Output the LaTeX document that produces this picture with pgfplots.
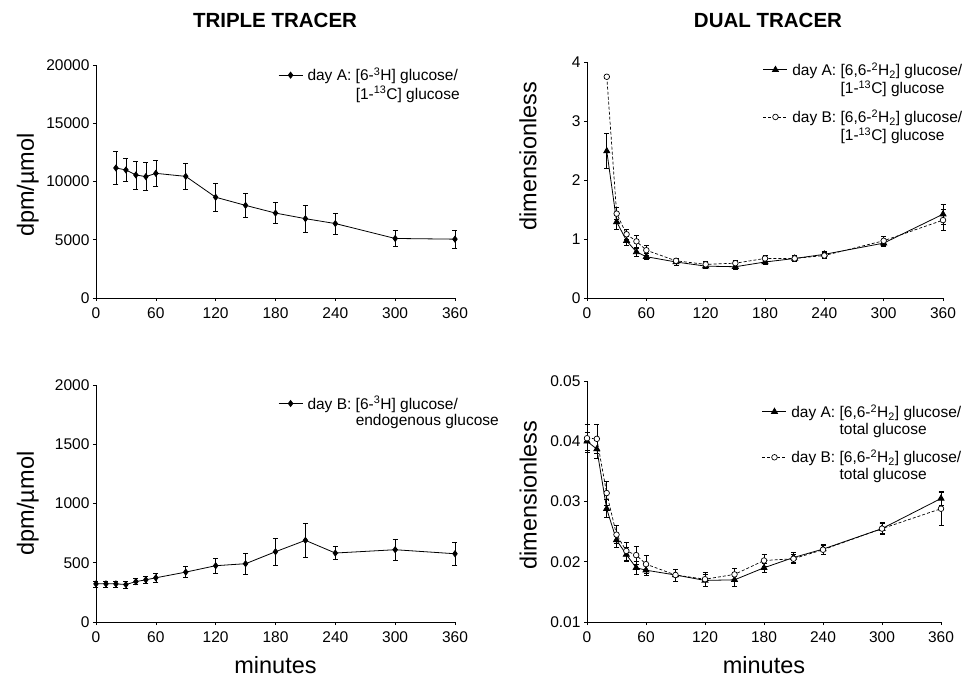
\documentclass[border=0pt]{standalone}
\usepackage{fontspec}
\setmainfont{Liberation Sans}
\usepackage{pgfplots}
\pgfplotsset{compat=1.18}
\usepackage{pgfplotstable}

% triple tracer, day A
\pgfplotstableread{
t v e
20 11160 1400
30 10990 980
40 10560 1200
50 10420 1200
60 10700 1100
90 10440 1100
120 8650 1180
150 7950 1050
180 7290 920
210 6810 1180
240 6390 880
300 5110 680
360 5050 750
}\triA
% triple tracer, day B
\pgfplotstableread{
t v e
0 322 25
10 322 25
20 322 25
30 316 30
40 341 25
50 356 30
60 373 40
90 421 45
120 475 65
150 492 90
180 593 115
210 689 140
240 582 55
300 610 90
360 576 95
}\triB
% dual tracer, ratio to [1-13C]
\pgfplotstableread{
t v e
20 2.49 0.30
30 1.29 0.12
40 0.97 0.08
50 0.78 0.07
60 0.70 0.05
90 0.61 0.05
120 0.54 0.04
150 0.53 0.04
180 0.61 0.04
210 0.67 0.05
240 0.74 0.05
300 0.93 0.06
360 1.42 0.17
}\dualA
\pgfplotstableread{
t v e
20 3.75 0.02
30 1.43 0.10
40 1.08 0.09
50 0.96 0.10
60 0.81 0.08
90 0.63 0.05
120 0.57 0.05
150 0.59 0.05
180 0.67 0.05
210 0.67 0.05
240 0.72 0.05
300 0.97 0.07
360 1.32 0.18
}\dualB
% dual tracer, ratio to total glucose
\pgfplotstableread{
t v e
0 0.0400 0.0015
10 0.0387 0.0015
20 0.0288 0.0015
30 0.0236 0.0012
40 0.0212 0.0012
50 0.0190 0.0010
60 0.0186 0.0008
90 0.0178 0.0010
120 0.0169 0.0010
150 0.0170 0.0010
180 0.0190 0.0008
210 0.0207 0.0008
240 0.0221 0.0008
300 0.0255 0.0010
360 0.0305 0.0012
}\totA
\pgfplotstableread{
t v e
0 0.0405 0.0023
10 0.0404 0.0024
20 0.0314 0.0020
30 0.0245 0.0015
40 0.0218 0.0015
50 0.0211 0.0015
60 0.0196 0.0015
90 0.0178 0.0010
120 0.0171 0.0012
150 0.0179 0.0010
180 0.0202 0.0010
210 0.0205 0.0008
240 0.0220 0.0008
300 0.0255 0.0008
360 0.0288 0.0028
}\totB

\pgfplotsset{
  panel/.style={
    scale only axis, anchor=south west,
    axis lines*=left, clip=false,
    xmin=0, xmax=360, xtick={0,60,...,360},
    tick align=outside, major tick length=3pt,
    tick style={black, line width=0.6pt},
    axis line style={line width=0.7pt},
    tick label style={font=\fontsize{15.5}{17}\selectfont},
    xticklabel style={yshift=-3pt},
    label style={font=\fontsize{23.5}{26}\selectfont},
    /pgf/number format/assume math mode=true,
    /pgf/number format/1000 sep={},
    scaled y ticks=false,
    legend cell align=left,
    legend style={draw=none, fill=none, inner sep=0pt, row sep=3pt, column sep=4pt,
      font=\fontsize{15.5}{17}\selectfont, nodes={inner sep=0.5pt}},
    legend image code/.code={
      \draw[mark repeat=2, mark phase=2, ##1] plot coordinates {(0pt,0pt) (12pt,0pt) (24pt,0pt)};},
  },
  ebar/.style={error bars/.cd, y dir=both, y explicit,
    error bar style={solid, line width=0.6pt},
    error mark options={solid, rotate=90, mark size=2.5pt, line width=0.6pt}},
  diam/.style={black, line width=0.8pt, mark=diamond*, mark size=3pt, mark options={solid}},
  serA/.style={black, line width=0.8pt, mark=triangle*, mark size=3.5pt, mark options={solid}},
  serB/.style={black, densely dashed, line width=0.7pt, mark=*, mark size=2.8pt,
    mark options={solid, fill=white, draw=black, line width=0.7pt}},
}

\begin{document}
\begin{tikzpicture}
\path[use as bounding box] (0pt,0pt) rectangle (967pt,678pt);
\node[font=\bfseries\fontsize{20.5}{24}\selectfont] at (275pt,658pt) {TRIPLE TRACER};
\node[font=\bfseries\fontsize{20.5}{24}\selectfont] at (768pt,658pt) {DUAL TRACER};

% top left
\begin{axis}[panel, at={(96pt,380pt)}, width=359pt, height=233pt,
  ymin=0, ymax=20000, ytick={0,5000,...,20000},
  ylabel={dpm/µmol},
  ylabel style={at={(axis description cs:-0.19,0.485)}, anchor=center},
  legend style={at={(axis description cs:0.507,0.99)}, anchor=north west}]
\addplot+[diam, ebar] table[x=t, y=v, y error=e] {\triA};
\addlegendentry{day A: [6-\textsuperscript{3}H] glucose/}
\addlegendimage{empty legend}
\addlegendentry{\hphantom{day A: }[1-\textsuperscript{13}C] glucose}
\end{axis}

% bottom left
\begin{axis}[panel, at={(96pt,56pt)}, width=359pt, height=237pt,
  ymin=0, ymax=2000, ytick={0,500,...,2000},
  ylabel={dpm/µmol}, xlabel={minutes},
  ylabel style={at={(axis description cs:-0.19,0.5)}, anchor=center},
  xlabel style={at={(axis description cs:0.5,-0.18)}, anchor=center},
  legend style={at={(axis description cs:0.507,0.955)}, anchor=north west}]
\addplot+[diam, ebar] table[x=t, y=v, y error=e] {\triB};
\addlegendentry{day B: [6-\textsuperscript{3}H] glucose/}
\addlegendimage{empty legend}
\addlegendentry{\hphantom{day B: }endogenous glucose}
\end{axis}

% top right
\begin{axis}[panel, at={(587pt,380pt)}, width=356pt, height=236pt,
  ymin=0, ymax=4, ytick={0,1,2,3,4},
  ylabel={dimensionless},
  ylabel style={at={(axis description cs:-0.166,0.6)}, anchor=center},
  legend style={at={(axis description cs:0.494,1.0)}, anchor=north west}]
\addplot+[serA, ebar] table[x=t, y=v, y error=e] {\dualA};
\addlegendentry{day A: [6,6-\textsuperscript{2}H\textsubscript{2}] glucose/}
\addlegendimage{empty legend}
\addlegendentry{\hphantom{day A: }[1-\textsuperscript{13}C] glucose}
\addlegendimage{empty legend}
\addlegendentry{\rule{0pt}{5pt}}
\addplot+[serB, ebar] table[x=t, y=v, y error=e] {\dualB};
\addlegendentry{day B: [6,6-\textsuperscript{2}H\textsubscript{2}] glucose/}
\addlegendimage{empty legend}
\addlegendentry{\hphantom{day B: }[1-\textsuperscript{13}C] glucose}
\end{axis}

% bottom right
\begin{axis}[panel, at={(587pt,56pt)}, width=354pt, height=241pt,
  ymin=0.01, ymax=0.05, ytick={0.01,0.02,...,0.05},
  yticklabel style={/pgf/number format/.cd, fixed, fixed zerofill, precision=2},
  ylabel={dimensionless}, xlabel={minutes},
  ylabel style={at={(axis description cs:-0.166,0.526)}, anchor=center},
  xlabel style={at={(axis description cs:0.5,-0.18)}, anchor=center},
  legend style={at={(axis description cs:0.494,0.905)}, anchor=north west}]
\addplot+[serA, ebar] table[x=t, y=v, y error=e] {\totA};
\addlegendentry{day A: [6,6-\textsuperscript{2}H\textsubscript{2}] glucose/}
\addlegendimage{empty legend}
\addlegendentry{\hphantom{day A: }total glucose}
\addlegendimage{empty legend}
\addlegendentry{\rule{0pt}{5pt}}
\addplot+[serB, ebar] table[x=t, y=v, y error=e] {\totB};
\addlegendentry{day B: [6,6-\textsuperscript{2}H\textsubscript{2}] glucose/}
\addlegendimage{empty legend}
\addlegendentry{\hphantom{day B: }total glucose}
\end{axis}
\end{tikzpicture}
\end{document}
